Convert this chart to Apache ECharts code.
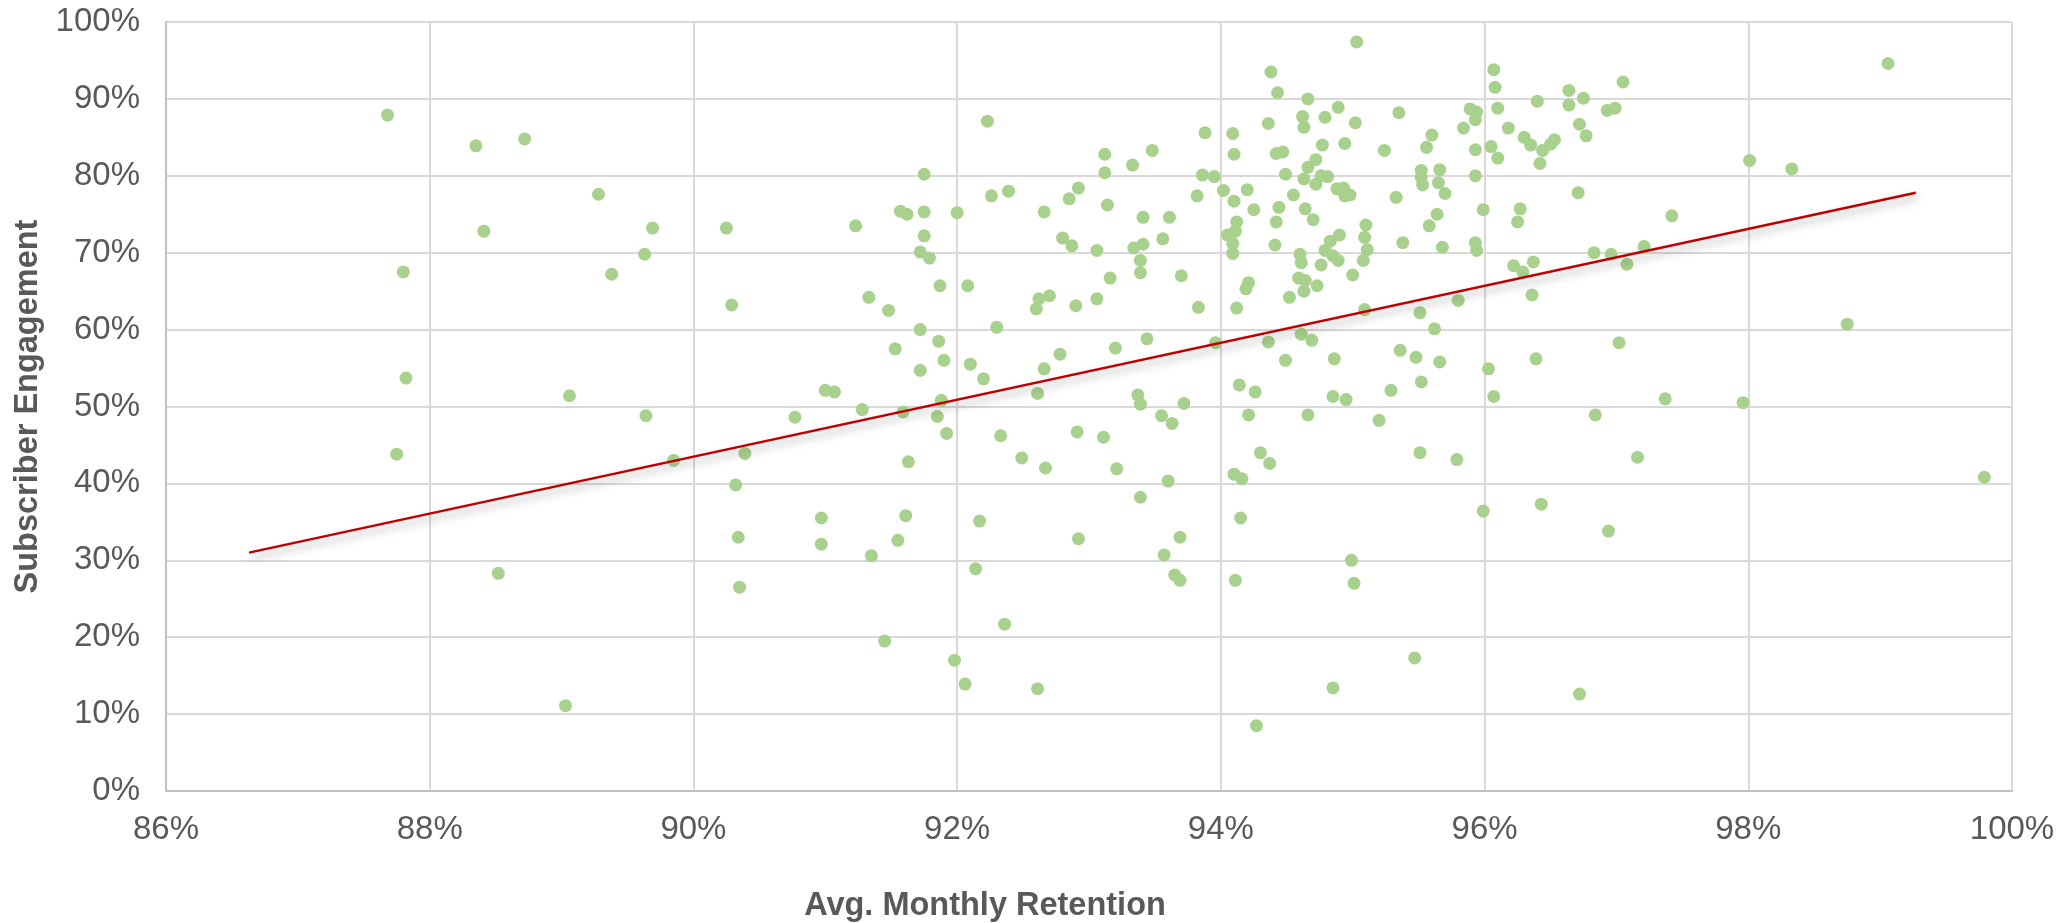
<!DOCTYPE html>
<html>
<head>
<meta charset="utf-8">
<title>Subscriber Engagement vs Avg. Monthly Retention</title>
<script src="https://cdn.jsdelivr.net/npm/echarts@6/dist/echarts.min.js"></script>
<style>
  html, body { margin: 0; padding: 0; background: #fff; }
  #chart { width: 2065px; height: 923px; }
</style>
</head>
<body>
<div id="chart"></div>
<script>
// avg. monthly retention (%) per subscriber group
const retention = [
  87.68, 88.35, 88.72, 89.28, 88.41, 87.80, 87.82, 89.06, 87.75, 88.52, 89.03,
  89.69, 89.63, 89.38, 90.25, 90.29, 89.64, 90.77, 91.23, 91.33, 91.48, 91.57, 91.62,
  91.75, 91.75, 91.75, 91.72, 91.79, 92.00, 91.87, 92.08, 91.72, 91.86, 91.53, 91.90,
  91.72, 92.10, 92.20, 91.00, 91.07, 91.28, 91.59, 91.88, 91.85, 92.23, 92.26, 92.39,
  92.66, 92.85, 92.92, 92.80, 92.87, 93.06, 92.30, 92.62, 92.70, 92.60, 92.90, 93.06,
  92.78, 92.66, 92.61,
  89.85, 90.39, 91.92, 91.63, 92.33, 92.49, 92.67, 92.91, 90.32, 90.97, 91.61, 92.17,
  90.34, 90.97, 91.55, 91.35, 92.92, 92.14, 90.35, 92.36, 91.45, 91.98, 92.06, 92.61,
  93.12, 93.12, 93.14, 93.16, 93.20, 93.33, 93.48, 93.41, 93.61, 93.34, 93.41, 93.39,
  93.39, 93.56, 93.70, 93.44, 93.37, 93.39, 93.55, 93.72, 93.88, 93.86, 93.95, 93.82,
  94.02, 93.83, 93.96, 94.09, 94.10, 94.10, 94.20, 94.25, 94.12, 94.11, 94.05, 94.09,
  94.09, 94.21, 94.19, 94.12, 94.14, 94.26, 94.21, 94.38, 94.43, 94.36, 94.42, 94.47,
  94.49, 94.44, 94.42, 94.41, 94.55, 94.52, 94.36, 94.49, 94.61, 94.69, 94.66, 94.62,
  94.63, 94.79, 94.89, 95.02, 94.77, 94.94, 94.72, 94.66, 94.63, 94.72, 94.76, 94.81,
  94.88, 94.93, 94.94, 94.98, 94.64, 94.70, 94.60, 94.61, 94.76, 94.79, 94.83, 94.90,
  94.85, 94.89, 95.00, 94.59, 94.64, 94.63, 94.73, 95.10, 95.09, 95.11, 95.08, 95.09,
  94.86, 94.85, 94.95, 94.66, 95.03, 95.35, 95.24, 95.33, 95.38, 95.51, 95.36, 95.29,
  95.20, 95.60, 95.56, 95.52, 95.52, 95.53, 95.66, 95.65, 95.70, 95.64, 95.58, 95.68,
  95.62, 95.48, 95.66, 95.52, 95.84, 95.89, 95.94, 95.93, 95.93, 95.93, 95.99, 95.93,
  95.94, 95.80, 96.03, 96.07, 96.07, 96.08, 96.10, 96.05, 96.10, 96.18, 96.40, 96.30,
  96.35, 96.44, 96.50, 96.53, 96.42, 96.64, 96.64, 96.75, 96.72, 96.77, 96.71, 96.27,
  96.25, 96.22, 96.29, 96.37, 96.36, 96.83, 96.39, 96.84,
  93.63, 93.11, 93.21, 93.60, 93.39, 93.69, 93.57, 93.65, 93.69, 94.30, 94.37, 94.10,
  94.16, 94.15, 94.11, 94.99, 95.01, 95.51, 95.79, 95.99, 96.43, 95.47, 94.85, 94.27,
  96.72,
  97.05, 96.93, 96.99, 98.01, 98.33, 99.06, 97.42, 96.96, 97.08, 97.21, 98.75, 97.02,
  97.37, 97.96, 97.16, 99.79, 96.94
];

// subscriber engagement (%) for the same groups
const engagement = [
  87.9, 83.9, 84.8, 77.6, 72.8, 67.5, 53.7, 51.4, 43.8, 28.3, 11.1,
  73.2, 69.8, 67.2, 73.2, 63.2, 48.8, 48.6, 73.5, 64.2, 62.5, 75.4, 75.0,
  80.2, 75.3, 72.2, 70.1, 69.3, 75.2, 65.7, 65.7, 60.0, 58.5, 57.5, 56.0,
  54.7, 55.5, 53.6, 52.1, 51.9, 49.6, 49.3, 50.8, 48.7, 87.1, 77.4, 78.0,
  75.3, 77.0, 78.4, 71.9, 70.9, 70.3, 60.3, 64.0, 64.4, 62.7, 63.1, 64.0,
  56.8, 54.9, 51.7,
  43.0, 43.9, 46.5, 42.8, 46.2, 43.3, 42.0, 46.7, 39.8, 35.5, 35.8, 35.1,
  33.0, 32.1, 32.6, 30.6, 32.8, 28.9, 26.5, 21.7, 19.5, 17.0, 13.9, 13.3,
  82.8, 80.4, 76.2, 66.7, 57.6, 81.4, 83.3, 74.6, 74.6, 70.6, 71.1, 69.0,
  67.4, 71.8, 67.0, 58.8, 51.5, 50.3, 48.8, 50.4, 85.6, 80.1, 79.9, 77.4,
  78.1, 62.9, 58.3, 85.5, 82.8, 76.7, 78.2, 75.6, 74.0, 72.8, 72.3, 71.2,
  69.9, 66.1, 65.3, 62.8, 52.8, 51.9, 48.9, 93.5, 90.8, 86.8, 82.9, 83.1,
  80.2, 75.9, 74.0, 71.0, 77.5, 64.2, 58.4, 56.0, 59.4, 58.6, 90.0, 87.7,
  86.3, 87.6, 88.9, 86.9, 84.0, 84.2, 82.1, 81.1, 79.6, 78.9, 80.0, 79.9,
  78.3, 78.4, 77.4, 77.5, 75.7, 74.3, 69.8, 68.7, 68.4, 70.3, 71.5, 72.3,
  69.6, 69.0, 67.1, 66.7, 66.4, 65.0, 65.7, 73.6, 72.0, 70.4, 69.0, 62.6,
  56.2, 51.3, 50.9, 48.9, 97.4, 88.2, 83.3, 77.2, 71.3, 62.2, 57.3, 52.1,
  48.2, 85.3, 83.7, 80.7, 79.8, 78.8, 80.8, 79.1, 77.7, 75.0, 73.5, 70.7,
  60.1, 56.4, 55.8, 53.2, 86.2, 88.7, 88.3, 87.3, 83.4, 80.0, 75.6, 71.3,
  70.3, 63.8, 54.9, 51.3, 93.8, 91.5, 88.8, 83.8, 82.3, 86.2, 89.7, 85.0,
  84.0, 83.3, 84.1, 84.7, 81.6, 91.1, 89.2, 90.1, 86.7, 85.2, 77.8, 75.7,
  74.0, 68.3, 67.5, 68.8, 64.5, 70.0, 56.2, 48.9,
  47.8, 46.0, 41.9, 40.3, 38.2, 33.0, 30.7, 28.1, 27.4, 44.0, 42.6, 41.2,
  40.6, 35.5, 27.4, 30.0, 27.0, 44.0, 43.1, 36.4, 37.3, 17.3, 13.4, 8.5,
  12.6,
  92.2, 88.5, 88.8, 82.0, 80.9, 94.6, 74.8, 69.8, 68.5, 70.8, 60.7, 58.3,
  51.0, 50.5, 43.4, 40.8, 33.8
];

// linear trendline end points
const trendRetention = [86.63, 99.27];
const trendEngagement = [31.0, 77.8];

const points = retention.map((r, i) => [r, engagement[i]]);
const trend = trendRetention.map((r, i) => [r, trendEngagement[i]]);

const textColor = '#595959';
const gridColor = '#d9d9d9';
const font = '"Liberation Sans", Arial, sans-serif';

const myChart = echarts.init(document.getElementById('chart'));
const option = {
  animation: false,
  textStyle: { fontFamily: font },
  grid: { left: 166, right: 53, top: 22, bottom: 132, containLabel: false, outerBoundsMode: 'none' },
  xAxis: {
    type: 'value',
    min: 86,
    max: 100,
    interval: 2,
    name: 'Avg. Monthly Retention',
    nameLocation: 'middle',
    nameGap: 99,
    nameTextStyle: {
      color: textColor, fontSize: 32.5, fontWeight: 'bold', fontFamily: font,
      padding: [0, 208, 0, 0]
    },
    axisLine: { show: true, lineStyle: { color: '#bfbfbf', width: 2 } },
    axisTick: { show: false },
    axisLabel: {
      formatter: '{value}%', color: textColor, fontSize: 33, margin: 22, fontFamily: font
    },
    splitLine: { show: true, lineStyle: { color: gridColor, width: 2 } }
  },
  yAxis: {
    type: 'value',
    min: 0,
    max: 100,
    interval: 10,
    name: 'Subscriber Engagement',
    nameLocation: 'middle',
    nameGap: 119,
    nameTextStyle: { color: textColor, fontSize: 32.5, fontWeight: 'bold', fontFamily: font },
    axisLine: { show: true, lineStyle: { color: '#bfbfbf', width: 2 } },
    axisTick: { show: false },
    axisLabel: {
      formatter: '{value}%', color: textColor, fontSize: 33, margin: 26, fontFamily: font
    },
    splitLine: { show: true, lineStyle: { color: gridColor, width: 2 } }
  },
  series: [
    {
      name: 'Groups',
      type: 'scatter',
      symbol: 'circle',
      symbolSize: 13,
      itemStyle: { color: '#a9d18e', opacity: 1 },
      data: points
    },
    {
      name: 'Trend',
      type: 'line',
      showSymbol: false,
      symbol: 'none',
      data: trend,
      lineStyle: {
        color: '#c00000',
        width: 2.5,
        shadowColor: 'rgba(0,0,0,0.35)',
        shadowBlur: 8,
        shadowOffsetX: 2,
        shadowOffsetY: 5
      },
      z: 3
    }
  ]
};
myChart.setOption(option);
</script>
</body>
</html>
